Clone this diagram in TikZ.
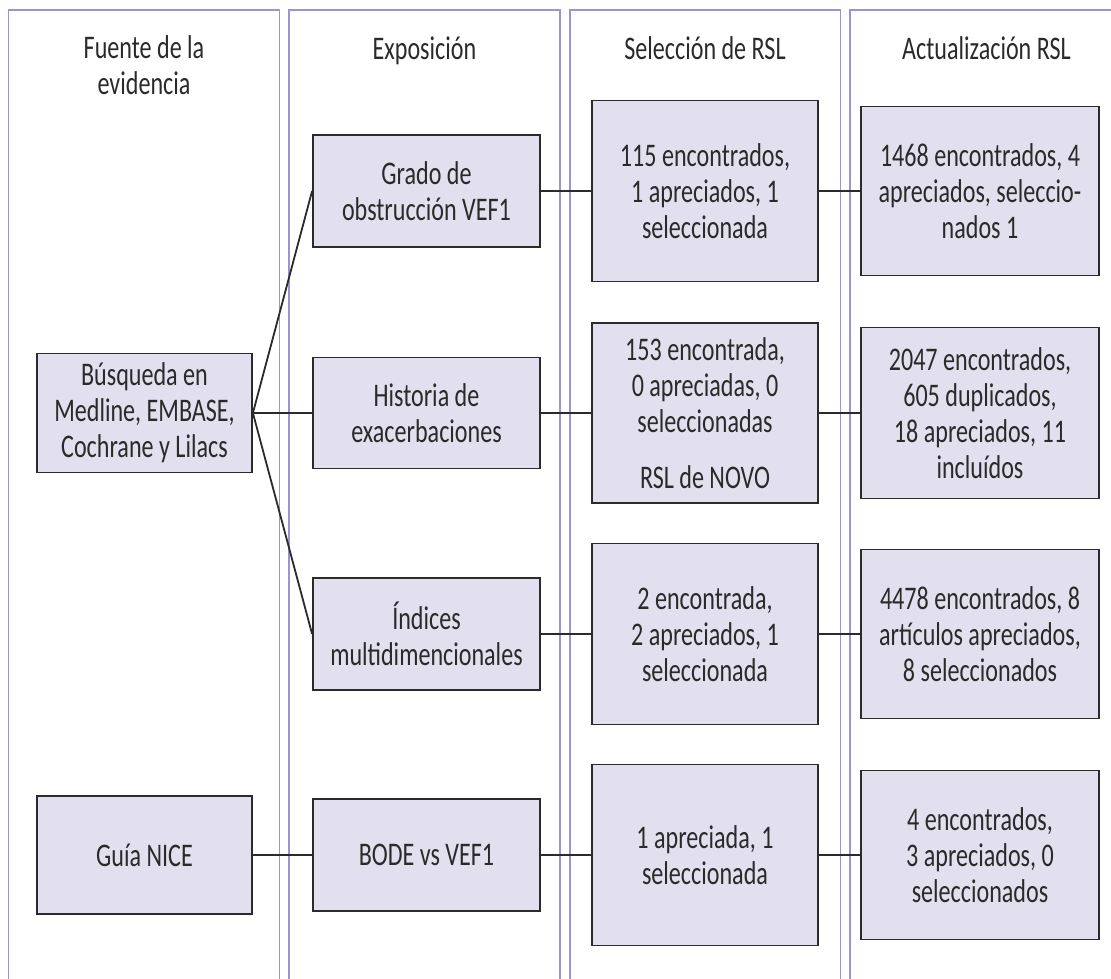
\documentclass[tikz,border=0pt]{standalone}
\usepackage{fontspec}
\setmainfont[FakeStretch=0.73]{Carlito}
\definecolor{colline}{HTML}{9C94D0}
\definecolor{boxfill}{HTML}{E2E0EE}
\definecolor{boxline}{HTML}{2B2B2B}
\definecolor{txt}{HTML}{2A2A2A}
\begin{document}
\begin{tikzpicture}[x=1pt,y=-1pt,
  column/.style={draw=colline,line width=1.4pt},
  head/.style={text=txt,align=center,font=\fontsize{33}{36}\selectfont,anchor=base},
  box/.style={draw=boxline,fill=boxfill,line width=1.8pt,align=center,inner sep=0pt,
    text=txt,font=\fontsize{33}{36}\selectfont},
  link/.style={draw=boxline,line width=1.8pt}]
\useasboundingbox (0,0) rectangle (1111,979);

% column panels, open at the bottom
\draw[column] (8.6,979) -- (8.6,10) -- (279.6,10) -- (279.6,979);
\draw[column] (289,979) -- (289,10) -- (560,10) -- (560,979);
\draw[column] (570,979) -- (570,10) -- (840.5,10) -- (840.5,979);
\draw[column] (850,979) -- (850,10) -- (1111,10);

% column headings (base anchor sits on the last line)
\node[head] (h1) at (144,95) {Fuente de la\\evidencia};
\node[head] (h2) at (424.5,60) {Exposición};
\node[head] (h3) at (705,60) {Selección de RSL};
\node[head] (h4) at (986.5,60) {Actualización RSL};

% sources
\node[box,minimum width=215,minimum height=119] (src1) at (144.5,413) {Búsqueda en\\Medline, EMBASE,\\Cochrane y Lilacs};
\node[box,minimum width=215,minimum height=118] (src2) at (144.5,855) {Guía NICE};

% exposures
\node[box,minimum width=227,minimum height=112] (exp1) at (426.5,191) {Grado de\\obstrucción VEF1};
\node[box,minimum width=227,minimum height=111] (exp2) at (426.5,413) {Historia de\\exacerbaciones};
\node[box,minimum width=227,minimum height=112] (exp3) at (426.5,634) {Índices\\multidimencionales};
\node[box,minimum width=227,minimum height=112] (exp4) at (426.5,855) {BODE vs VEF1};

% review selection
\node[box,minimum width=226,minimum height=181] (sel1) at (705,191) {115 encontrados,\\1 apreciados, 1\\seleccionada};
\node[box,minimum width=226,minimum height=180] (sel2) at (705,413) {153 encontrada,\\0 apreciadas, 0\\seleccionadas\\[20pt]RSL de NOVO};
\node[box,minimum width=226,minimum height=181] (sel3) at (705,634) {2 encontrada,\\2 apreciados, 1\\seleccionada};
\node[box,minimum width=226,minimum height=181] (sel4) at (705,855) {1 apreciada, 1\\seleccionada};

% review update
\node[box,minimum width=238.5,minimum height=169] (upd1) at (980,191) {1468 encontrados, 4\\apreciados, seleccio-\\nados 1};
\node[box,minimum width=238.5,minimum height=171] (upd2) at (980,413) {2047 encontrados,\\605 duplicados,\\18 apreciados, 11\\incluídos};
\node[box,minimum width=238.5,minimum height=169] (upd3) at (980,634) {4478 encontrados, 8\\artículos apreciados,\\8 seleccionados};
\node[box,minimum width=238.5,minimum height=169] (upd4) at (980,855) {4 encontrados,\\3 apreciados, 0\\seleccionados};

% connectors
\draw[link] (src1.east) -- (exp1.west);
\draw[link] (src1.east) -- (exp2.west);
\draw[link] (src1.east) -- (exp3.west);
\draw[link] (src2.east) -- (exp4.west);
\draw[link] (exp1.east) -- (sel1.west);
\draw[link] (exp2.east) -- (sel2.west);
\draw[link] (exp3.east) -- (sel3.west);
\draw[link] (exp4.east) -- (sel4.west);
\draw[link] (sel1.east) -- (upd1.west);
\draw[link] (sel2.east) -- (upd2.west);
\draw[link] (sel3.east) -- (upd3.west);
\draw[link] (sel4.east) -- (upd4.west);
\end{tikzpicture}
\end{document}
